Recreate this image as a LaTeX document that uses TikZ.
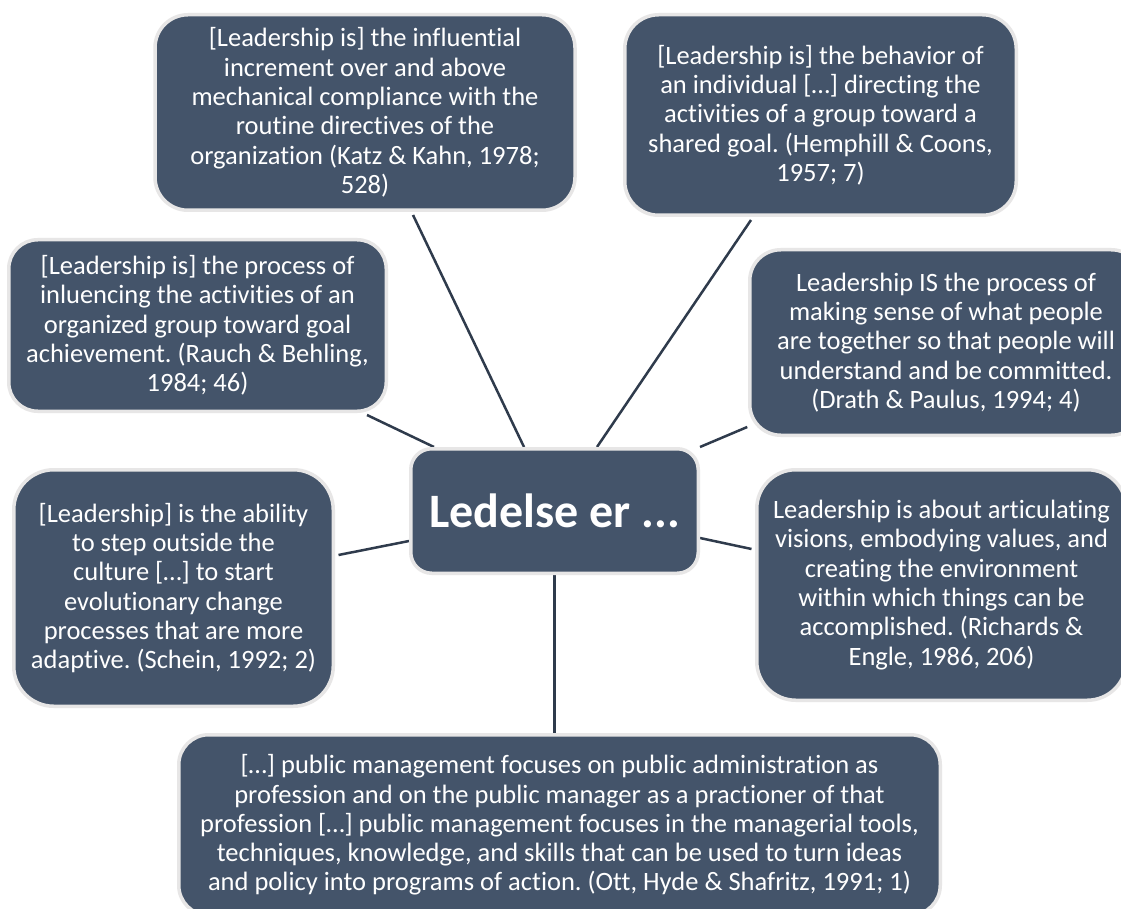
\documentclass[tikz,border=0pt]{standalone}
\usepackage{fontspec}
\setmainfont[Ligatures={NoCommon}]{Carlito}
\usetikzlibrary{backgrounds}
\definecolor{boxfill}{HTML}{44546A}
\definecolor{boxedge}{HTML}{E7E6E6}
\definecolor{linecol}{HTML}{2F3B4C}
\tikzset{
  box/.style={draw=boxedge, fill=boxfill, line width=3.5pt, text=white,
    align=center, inner sep=0pt, font=\fontsize{26.5}{29.3}\selectfont},
  conn/.style={draw=linecol, line width=2.5pt},
}
\frenchspacing
\begin{document}
\begin{tikzpicture}[x=1pt,y=-1pt]
\useasboundingbox (0,0) rectangle (1121,909);
\clip (0,0) rectangle (1121,909);

\node[box, minimum width=420pt, minimum height=195.5pt, rounded corners=33pt] (katz) at (365,112.5)
  {[Leadership is] the influential\\increment over and above\\mechanical compliance with the\\routine directives of the\\organization (Katz \& Kahn, 1978;\\528)};
\node[box, minimum width=391.5pt, minimum height=200.5pt, rounded corners=34pt] (hemphill) at (820.5,115)
  {[Leadership is] the behavior of\\an individual […] directing the\\activities of a group toward a\\shared goal. (Hemphill \& Coons,\\1957; 7)};
\node[box, minimum width=377.5pt, minimum height=171.5pt, rounded corners=29pt] (rauch) at (197.5,325.5)
  {[Leadership is] the process of\\inluencing the activities of an\\organized group toward goal\\achievement. (Rauch \& Behling,\\1984; 46)};
\node[box, minimum width=392.5pt, minimum height=185.5pt, rounded corners=31pt] (drath) at (946,342.5)
  {Leadership IS the process of\\making sense of what people\\are together so that people will\\understand and be committed.\\(Drath \& Paulus, 1994; 4)};
\node[box, minimum width=287.5pt, minimum height=124.5pt, rounded corners=21pt,
  font=\fontsize{48}{54}\selectfont\bfseries] (center) at (554.5,511) {Ledelse er ...};
\node[box, minimum width=319.5pt, minimum height=236.5pt, rounded corners=40pt] (schein) at (173.5,588)
  {[Leadership] is the ability\\to step outside the\\culture […] to start\\evolutionary change\\processes that are more\\adaptive. (Schein, 1992; 2)};
\node[box, minimum width=369.5pt, minimum height=230.5pt, rounded corners=39pt] (richards) at (941.5,585)
  {Leadership is about articulating\\visions, embodying values, and\\creating the environment\\within which things can be\\accomplished. (Richards \&\\Engle, 1986, 206)};
\node[box, minimum width=761.5pt, minimum height=180.5pt, rounded corners=30pt] (ott) at (559.5,825)
  {[…] public management focuses on public administration as\\profession and on the public manager as a practioner of that\\profession […] public management focuses in the managerial tools,\\techniques, knowledge, and skills that can be used to turn ideas\\and policy into programs of action. (Ott, Hyde \& Shafritz, 1991; 1)};

\begin{scope}[on background layer]
  \fill[white] (0,0) rectangle (1121,909);
  \draw[conn] ([xshift=48pt,yshift=-3pt]katz.south) -- ([xshift=-30.5pt]center.north);
  \draw[conn] ([xshift=-69.5pt,yshift=-3pt]hemphill.south) -- ([xshift=42.5pt]center.north);
  \draw[conn] ([xshift=169.5pt,yshift=-2pt]rauch.south) -- ([xshift=-120.5pt]center.north);
  \draw[conn] ([xshift=-0.75pt,yshift=-84.5pt]drath.west) -- (center.north east);
  \draw[conn] ([xshift=3.5pt,yshift=33pt]schein.east) -- ([yshift=-30pt]center.west);
  \draw[conn] ([yshift=-27pt]center.east) -- ([xshift=-3.5pt,yshift=36pt]richards.west);
  \draw[conn] (center.south) -- (center.south |- ott.north);
\end{scope}
\end{tikzpicture}
\end{document}
